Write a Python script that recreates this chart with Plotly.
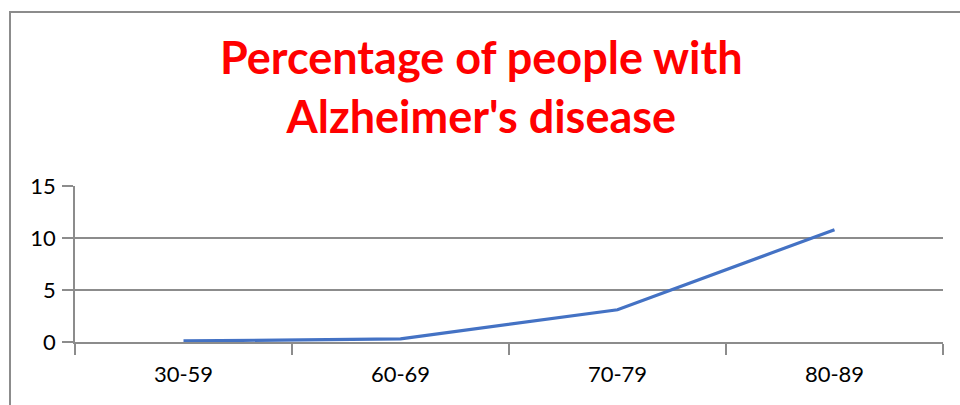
import plotly.graph_objects as go

categories = ["30-59", "60-69", "70-79", "80-89"]
values = [0.1, 0.3, 3.1, 10.8]
y_ticks = [0, 5, 10, 15]
title_text = "Percentage of people with<br>Alzheimer's disease"

W, H = 960, 405
L, R, T, B = 75, 17, 186, 63
pw = W - L - R
ph = H - T - B

def px2x(px):
    return (px - L) / pw

def py2y(py):
    return (H - B - py) / ph

fig = go.Figure()
fig.add_trace(go.Scatter(
    x=categories, y=values, mode="lines",
    line=dict(color="#4472C4", width=3.2),
    hoverinfo="x+y",
))

grid = "#8c8c8c"
fig.update_layout(
    width=W, height=H,
    margin=dict(l=L, r=R, t=T, b=B),
    paper_bgcolor="white", plot_bgcolor="white",
    showlegend=False,
    font=dict(family="Lato, Carlito, Calibri, sans-serif", size=22, color="#000000"),
    annotations=[dict(
        text=title_text, showarrow=False,
        xref="paper", yref="paper",
        x=px2x(481), y=py2y(86), xanchor="center", yanchor="middle",
        align="center",
        font=dict(family="Lato, Carlito, Calibri, sans-serif", size=45, color="#FF0000", weight="bold"),
    )],
    xaxis=dict(
        type="category", range=[-0.5, 3.5],
        showline=True, linecolor=grid, linewidth=1.5,
        ticks="outside", tickson="boundaries", ticklen=11, tickcolor=grid, tickwidth=1.5,
        ticklabelstandoff=12,
        showgrid=False, zeroline=False,
        tickfont=dict(size=22),
    ),
    yaxis=dict(
        range=[0, 15], tickvals=y_ticks,
        showline=True, linecolor=grid, linewidth=1.5,
        ticks="outside", ticklen=11, tickcolor=grid, tickwidth=1.5,
        ticklabelstandoff=2,
        showgrid=True, gridcolor=grid, gridwidth=1.5,
        zeroline=False,
        tickfont=dict(size=22),
    ),
    shapes=[dict(
        type="rect", xref="paper", yref="paper",
        x0=px2x(10), x1=px2x(975), y0=py2y(420), y1=py2y(12),
        line=dict(color="#8c8c8c", width=2), fillcolor="rgba(0,0,0,0)",
        layer="below",
    )],
)

fig.write_html("out.html")
